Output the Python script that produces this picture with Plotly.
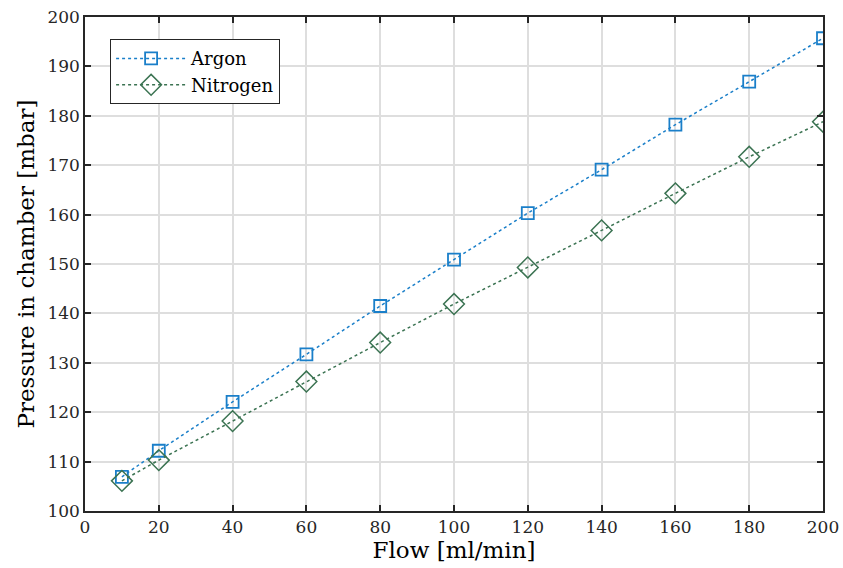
import plotly.graph_objects as go

flow = [10, 20, 40, 60, 80, 100, 120, 140, 160, 180, 200]
argon = [106.9, 112.2, 122.1, 131.7, 141.5, 150.9, 160.3, 169.1, 178.2, 186.9, 195.7]
nitrogen = [106.1, 110.3, 118.2, 126.2, 134.1, 141.9, 149.3, 156.8, 164.3, 171.7, 178.8]

x_ticks = [0, 20, 40, 60, 80, 100, 120, 140, 160, 180, 200]
y_ticks = [100, 110, 120, 130, 140, 150, 160, 170, 180, 190, 200]

FONT = "DejaVu Serif"
AX = "#262626"

fig = go.Figure()
fig.add_trace(go.Scatter(
    x=flow, y=argon, name="Argon", mode="lines+markers",
    line=dict(color="#1a7fc9", dash="dot", width=1.5),
    marker=dict(symbol="square-open", size=12, color="#1a7fc9", line=dict(width=1.8)),
))
fig.add_trace(go.Scatter(
    x=flow, y=nitrogen, name="Nitrogen", mode="lines+markers",
    line=dict(color="#3b7352", dash="dot", width=1.5),
    marker=dict(symbol="diamond-open", size=16, color="#3b7352", line=dict(width=1.5)),
))

axis_common = dict(
    showline=True, linecolor=AX, linewidth=1.5, mirror="ticks",
    ticks="inside", ticklen=6, tickcolor=AX, tickwidth=1.5,
    showgrid=True, gridcolor="#dedede", gridwidth=1.5, zeroline=False,
    tickfont=dict(family=FONT, size=17, color=AX), automargin=False,
)

fig.update_xaxes(range=[0, 200], tickvals=x_ticks,
                 title=dict(text="Flow [ml/min]", font=dict(family=FONT, size=23, color="#000"), standoff=2),
                 **axis_common)
fig.update_yaxes(range=[100, 200], tickvals=y_ticks,
                 title=dict(text="Pressure in chamber [mbar]", font=dict(family=FONT, size=23, color="#000"), standoff=6),
                 **axis_common)

fig.update_layout(
    width=843, height=568,
    margin=dict(l=85, r=20, t=17, b=57),
    plot_bgcolor="white", paper_bgcolor="white",
    legend=dict(x=0.034, y=0.955, xanchor="left", yanchor="top",
                bgcolor="white", bordercolor=AX, borderwidth=1,
                font=dict(family=FONT, size=18, color="#000"),
                itemwidth=70, tracegroupgap=0),
    showlegend=True,
)

fig.write_html("out.html")
